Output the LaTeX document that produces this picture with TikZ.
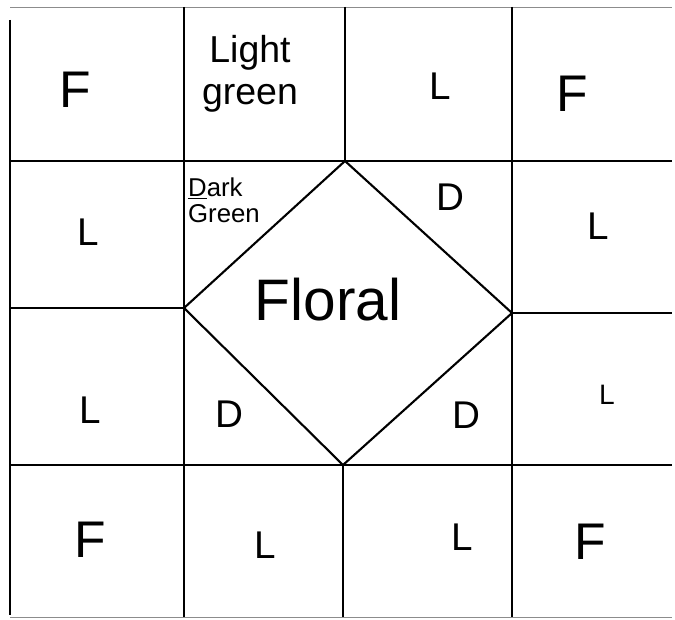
\documentclass[tikz,border=0pt]{standalone}
\usepackage{fontspec}
\setmainfont{Liberation Sans}
\usepackage{tikz}
\usetikzlibrary{positioning, calc}

\tikzset{
  seam/.style={line width=2.2pt, black},
  edge/.style={line width=0.8pt, black!45},
  patch/.style={inner sep=0pt, font=\fontsize{33}{35}\selectfont},
  bigpatch/.style={inner sep=0pt, font=\fontsize{44}{46}\selectfont},
  note/.style={inner sep=0pt, align=left, font=\fontsize{22}{22}\selectfont}
}

\begin{document}
\begin{tikzpicture}[x=0.03cm, y=-0.03cm]
  \useasboundingbox (0,0) rectangle (675,620);
  % Outer edges
  \draw[edge] (10,7) -- (672,7);
  \draw[edge] (10,617) -- (672,617);
  \draw[seam] (10,20) -- (10,615);
  % Grid seams
  \draw[seam] (184,7) -- (184,617);
  \draw[seam] (345,7) -- (345,161);
  \draw[seam] (343,465) -- (343,617);
  \draw[seam] (512,7) -- (512,617);
  \draw[seam] (10,161) -- (672,161);
  \draw[seam] (10,308) -- (184,308);
  \draw[seam] (512,313) -- (672,313);
  \draw[seam] (10,465) -- (672,465);
  % Centre square on point
  \coordinate (top) at (345,161);
  \coordinate (right) at (512,313);
  \coordinate (bottom) at (343,465);
  \coordinate (left) at (184,308);
  \draw[seam, line width=1.8pt] (top) -- (right) -- (bottom) -- (left) -- cycle;

  % Row 1
  \node[bigpatch] (f1) at (75,90) {F};
  \node[note, align=center, font=\fontsize{32}{36}\selectfont] (lg) at (250,74) {Light\\green};
  \node[patch] (l1) at (440,86) {L};
  \node[bigpatch] (f2) at (572,94) {F};
  % Row 2
  \node[note] (dg) at (224,200) {\underline{D}ark\\Green};
  \node[patch] (d1) at (450,197) {D};
  \node[patch] (l2) at (88,232) {L};
  \node[patch] (l3) at (598,226) {L};
  \node[bigpatch, font=\fontsize{50}{52}\selectfont] (floral) at (328,300) {Floral};
  % Row 3
  \node[patch] (l4) at (90,410) {L};
  \node[patch] (d2) at (229,414) {D};
  \node[patch] (d3) at (466,415) {D};
  \node[patch, font=\fontsize{24}{24}\selectfont] (l5) at (607,395) {L};
  % Row 4
  \node[bigpatch] (f3) at (90,540) {F};
  \node[patch] (l6) at (265,545) {L};
  \node[patch] (l7) at (462,537) {L};
  \node[bigpatch] (f4) at (590,542) {F};
\end{tikzpicture}
\end{document}
